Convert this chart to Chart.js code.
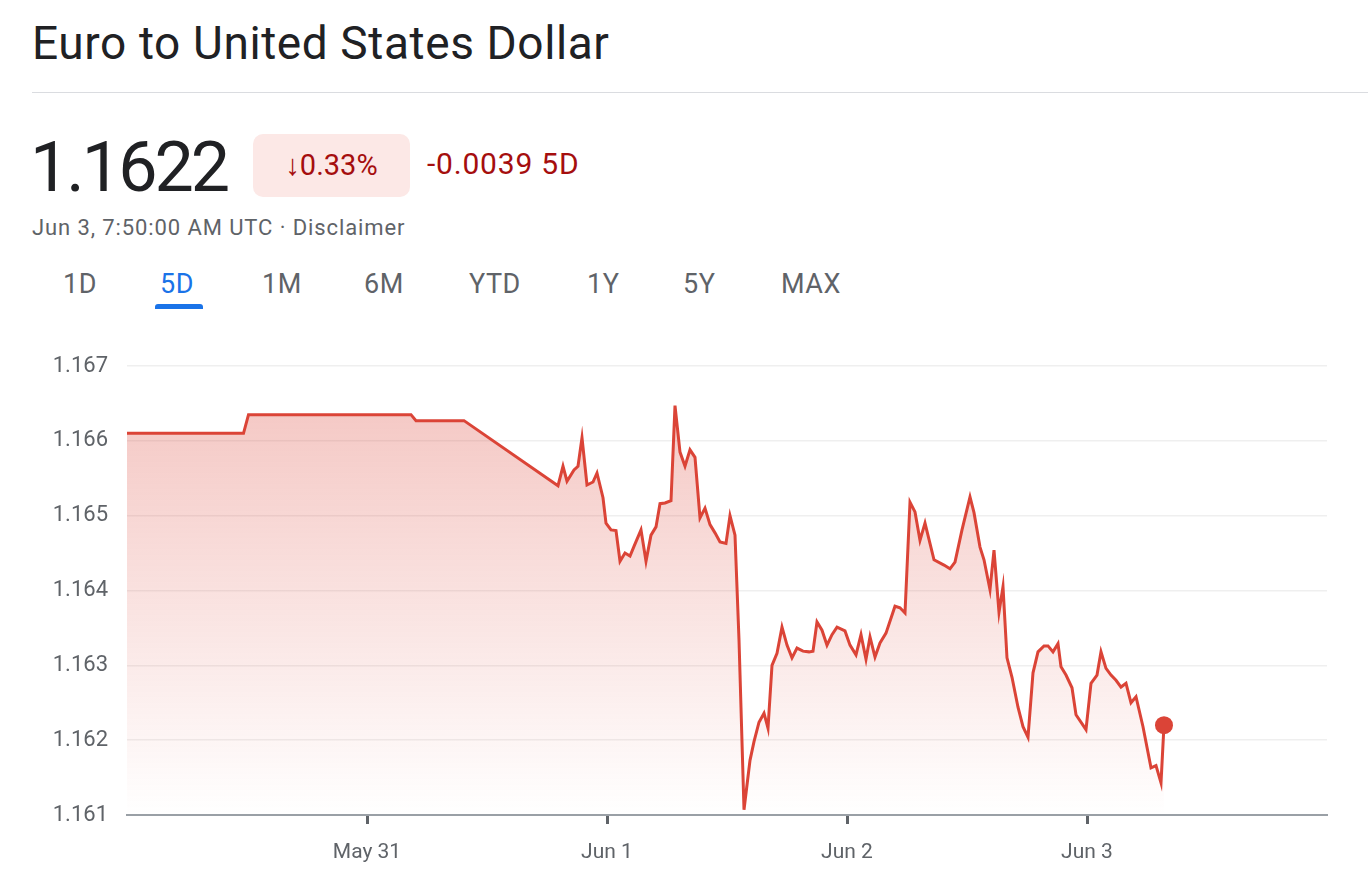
<!DOCTYPE html>
<html><head><meta charset="utf-8">
<script src="https://cdn.jsdelivr.net/npm/chart.js@4"></script>
<style>
body{margin:0;width:1368px;height:894px;background:#fff;font-family:Roboto,Arial,sans-serif;position:relative;overflow:hidden}
.t{position:absolute;white-space:nowrap}
.tab{position:absolute;white-space:nowrap;font-size:27px;color:#5f6368;top:268px;letter-spacing:0.5px}
</style></head><body>
<div class="t" style="left:32px;top:16px;font-size:46px;color:#202124;letter-spacing:0.6px">Euro to United States Dollar</div>
<div style="position:absolute;left:32px;top:92px;width:1336px;height:1px;background:#dadce0"></div>
<div class="t" style="left:30px;top:126px;font-size:70px;color:#202124;letter-spacing:-3px">1.1622</div>
<div class="t" style="left:253px;top:134px;width:157px;height:63px;border-radius:10px;background:#fce8e6;color:#a50e0e;font-size:29px;line-height:63px;text-align:center">↓0.33%</div>
<div class="t" style="left:427px;top:146px;font-size:30px;color:#a50e0e;letter-spacing:0.8px">-0.0039 5D</div>
<div class="t" style="left:32px;top:215px;font-size:22px;color:#5f6368;letter-spacing:0.9px">Jun 3, 7:50:00 AM UTC · Disclaimer</div>
<div class="tab" style="left:63px">1D</div>
<div class="tab" style="left:160px;color:#1a73e8">5D</div>
<div style="position:absolute;left:155px;top:304px;width:48px;height:5px;border-radius:3px 3px 0 0;background:#1a73e8"></div>
<div class="tab" style="left:262px">1M</div>
<div class="tab" style="left:364px">6M</div>
<div class="tab" style="left:469px">YTD</div>
<div class="tab" style="left:587px">1Y</div>
<div class="tab" style="left:683px">5Y</div>
<div class="tab" style="left:781px">MAX</div>
<div style="position:absolute;left:0;top:340px;width:1368px;height:554px"><canvas id="c"></canvas></div>
<script>
const hours=[0,11.65,12.15,28.4,28.9,33.7,43.1,43.6,44.0,44.7,45.1,45.5,46.0,46.6,47.0,47.6,47.9,48.4,48.9,49.3,49.8,50.3,50.7,51.4,51.9,52.4,52.9,53.3,53.8,54.4,54.8,55.3,55.8,56.3,56.8,57.3,57.8,58.3,58.8,59.3,59.9,60.3,60.8,61.2,61.7,62.3,62.7,63.2,63.7,64.1,64.5,65.0,65.5,66.0,66.5,67.0,67.6,68.2,68.6,69.0,69.5,70.0,70.5,71.0,71.8,72.3,72.9,73.4,73.9,74.3,74.8,75.3,75.9,76.8,77.3,77.8,78.3,78.8,79.3,79.8,80.7,81.7,82.3,82.8,83.5,84.3,84.7,85.3,85.7,86.3,86.7,87.2,87.6,88.0,88.5,89.1,89.6,90.1,90.6,91.1,91.7,92.1,92.6,93.1,93.4,93.9,94.5,94.9,95.9,96.4,97.0,97.4,97.9,98.4,98.9,99.4,99.9,100.4,100.9,101.6,102.4,102.9,103.4,103.7];
const rates=[1.1661,1.1661,1.16635,1.16635,1.16627,1.16627,1.16540,1.16566,1.16546,1.16561,1.16566,1.16604,1.16541,1.16545,1.16557,1.16524,1.16490,1.16481,1.16480,1.16439,1.16450,1.16446,1.16459,1.16481,1.16439,1.16474,1.16485,1.16516,1.16517,1.16520,1.16647,1.16585,1.16566,1.16588,1.16578,1.16497,1.16510,1.16488,1.16477,1.16465,1.16463,1.16500,1.16474,1.16334,1.16107,1.16173,1.16198,1.16224,1.16236,1.16216,1.16300,1.16316,1.16351,1.16327,1.16310,1.16323,1.16319,1.16318,1.16319,1.16358,1.16347,1.16327,1.16341,1.16351,1.16346,1.16327,1.16314,1.16341,1.16308,1.16338,1.16311,1.16330,1.16343,1.16379,1.16377,1.16370,1.16518,1.16505,1.16467,1.16490,1.16441,1.16434,1.16429,1.16438,1.16481,1.16525,1.16504,1.16458,1.16441,1.16401,1.16454,1.16371,1.16405,1.16310,1.16284,1.16244,1.16218,1.16204,1.16290,1.16318,1.16326,1.16326,1.16318,1.16329,1.16298,1.16287,1.16270,1.16234,1.16214,1.16276,1.16287,1.16318,1.16296,1.16287,1.16280,1.16271,1.16276,1.16250,1.16258,1.16218,1.16163,1.16166,1.16143,1.1622];
const tickHours=[24,48,72,96];
const tickLabels=['May 31','Jun 1','Jun 2','Jun 3'];
const yTicks=[1.161,1.162,1.163,1.164,1.165,1.166,1.167];
const pts=hours.map((h,i)=>({x:h,y:rates[i]}));
new Chart(document.getElementById('c'),{
 type:'line',
 data:{datasets:[{data:pts,borderColor:'#db4437',borderWidth:3,tension:0,
  pointRadius:pts.map((p,i)=>i===pts.length-1?9:0),pointBackgroundColor:'#db4437',pointBorderWidth:0,
  fill:'start',
  backgroundColor:(ctx)=>{const a=ctx.chart.chartArea;if(!a)return 'rgba(219,68,55,0.2)';const g=ctx.chart.ctx.createLinearGradient(0,a.top,0,a.bottom);g.addColorStop(0,'rgba(219,68,55,0.32)');g.addColorStop(1,'rgba(219,68,55,0)');return g;}}]},
 options:{responsive:true,maintainAspectRatio:false,animation:false,
  layout:{padding:{top:26,right:41,left:0,bottom:0}},
  plugins:{legend:{display:false},tooltip:{enabled:false}},
  scales:{
   x:{type:'linear',min:0,max:120,
    afterFit:s=>{s.height=79;s.paddingTop=0;},
    afterBuildTicks:s=>{s.ticks=tickHours.map(v=>({value:v}));},
    ticks:{autoSkip:false,maxRotation:0,padding:16,color:'#5f6368',font:{family:'Roboto',size:21},callback:v=>{const i=tickHours.indexOf(v);return i>=0?tickLabels[i]:'';}},
    grid:{drawOnChartArea:false,drawTicks:true,tickLength:9,tickWidth:3,color:'#5f6368'},
    border:{color:'#9aa0a6',width:2}},
   y:{min:1.161,max:1.167,
    afterFit:s=>{s.width=127;s.paddingTop=0;s.paddingBottom=0;},
    afterBuildTicks:s=>{s.ticks=yTicks.map(v=>({value:v}));},
    ticks:{padding:19,color:'#5f6368',font:{family:'Roboto',size:22},callback:v=>v.toFixed(3)},
    grid:{color:'#efefef',lineWidth:1.5,drawTicks:false},
    border:{display:false}}
  }}
});
</script></body></html>
